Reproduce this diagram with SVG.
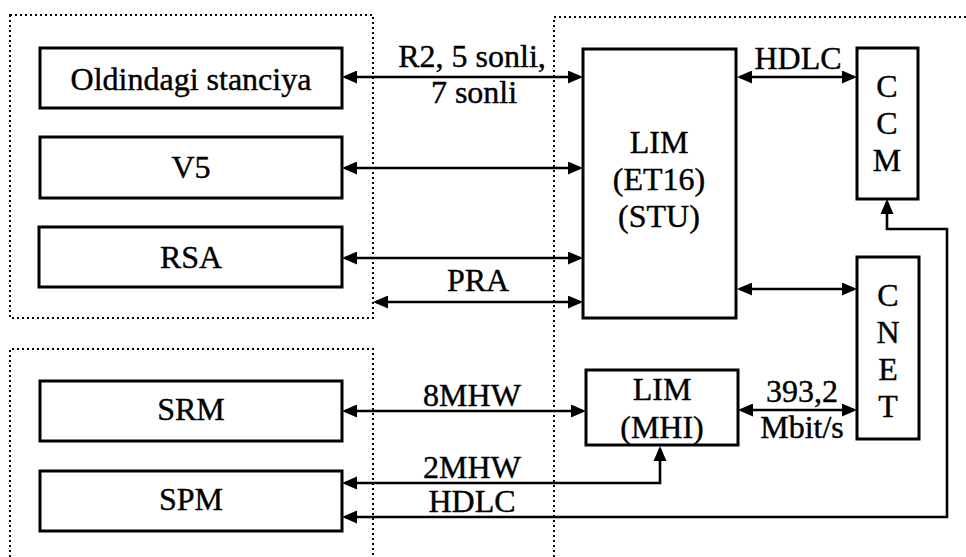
<svg xmlns="http://www.w3.org/2000/svg" width="966" height="557" viewBox="0 0 966 557">
<style>
.box{fill:#fff;stroke:#000;stroke-width:3}
.dot{fill:none;stroke:#000;stroke-width:2;stroke-dasharray:2 3}
</style>
<defs>
<marker id="ae" markerUnits="userSpaceOnUse" markerWidth="16" markerHeight="14" refX="12" refY="6.5" orient="auto">
<path d="M0,0 L15,6.5 L0,13 z" fill="#000"/>
</marker>
<marker id="as" markerUnits="userSpaceOnUse" markerWidth="16" markerHeight="14" refX="3" refY="6.5" orient="auto">
<path d="M15,0 L0,6.5 L15,13 z" fill="#000"/>
</marker>
</defs>
<rect width="966" height="557" fill="#fff"/>
<g id="groups">
<rect class="dot" x="10" y="15" width="363" height="303"/>
<path class="dot" d="M10,557 V349 H373 V557"/>
<path class="dot" d="M554,557 V17 H966"/>
</g>
<g id="connectors">
<g fill="none" stroke="#000" stroke-width="2.6" marker-start="url(#as)" marker-end="url(#ae)">
<path d="M345,77 H580"/>
<path d="M345,168 H580"/>
<path d="M345,258 H580"/>
<path d="M376,302 H580"/>
<path d="M740,77 H854"/>
<path d="M740,289 H854"/>
<path d="M345,411 H583"/>
<path d="M741,410 H854"/>
<path d="M660,449 V483 H345"/>
<path d="M887,202 V229 H947 V517 H345"/>
</g>
<g font-family="Liberation Serif" font-size="32" text-anchor="middle" fill="#000" stroke="#000" stroke-width="0.4">
<text x="472" y="67">R2, 5 sonli,</text>
<text x="474" y="103">7 sonli</text>
<text x="478" y="291">PRA</text>
<text x="798" y="69">HDLC</text>
<text x="472" y="406">8MHW</text>
<text x="802" y="402">393,2</text>
<text x="802" y="438">Mbit/s</text>
<text x="472" y="478">2MHW</text>
<text x="472" y="512">HDLC</text>
</g>
</g>
<g font-family="Liberation Serif" font-size="32" text-anchor="middle" fill="#000">
<g id="oldindagi">
<rect class="box" x="40" y="48" width="302" height="60"/>
<text x="191" y="90" stroke="#000" stroke-width="0.4">Oldindagi stanciya</text>
</g>
<g id="v5">
<rect class="box" x="40" y="137" width="302" height="61"/>
<text x="191" y="178" stroke="#000" stroke-width="0.4">V5</text>
</g>
<g id="rsa">
<rect class="box" x="39" y="227" width="303" height="60"/>
<text x="191" y="268" stroke="#000" stroke-width="0.4">RSA</text>
</g>
<g id="srm">
<rect class="box" x="40" y="381" width="302" height="60"/>
<text x="191" y="420" stroke="#000" stroke-width="0.4">SRM</text>
</g>
<g id="spm">
<rect class="box" x="40" y="471" width="302" height="60"/>
<text x="191" y="510" stroke="#000" stroke-width="0.4">SPM</text>
</g>
<g id="lim-stu">
<rect class="box" x="583" y="49" width="153" height="269"/>
<g stroke="#000" stroke-width="0.4">
<text x="659" y="153">LIM</text>
<text x="659" y="190">(ET16)</text>
<text x="659" y="227">(STU)</text>
</g>
</g>
<g id="lim-mhi">
<rect class="box" x="586" y="370" width="152" height="75"/>
<g stroke="#000" stroke-width="0.4">
<text x="662" y="400">LIM</text>
<text x="662" y="438">(MHI)</text>
</g>
</g>
<g id="ccm">
<rect class="box" x="857" y="48" width="61" height="151"/>
<g stroke="#000" stroke-width="0.4">
<text x="887" y="97">C</text>
<text x="887" y="134">C</text>
<text x="887" y="171">M</text>
</g>
</g>
<g id="cnet">
<rect class="box" x="857" y="257" width="62" height="182"/>
<g stroke="#000" stroke-width="0.4">
<text x="888" y="306">C</text>
<text x="888" y="343">N</text>
<text x="888" y="380">E</text>
<text x="888" y="417">T</text>
</g>
</g>
</g>
</svg>
